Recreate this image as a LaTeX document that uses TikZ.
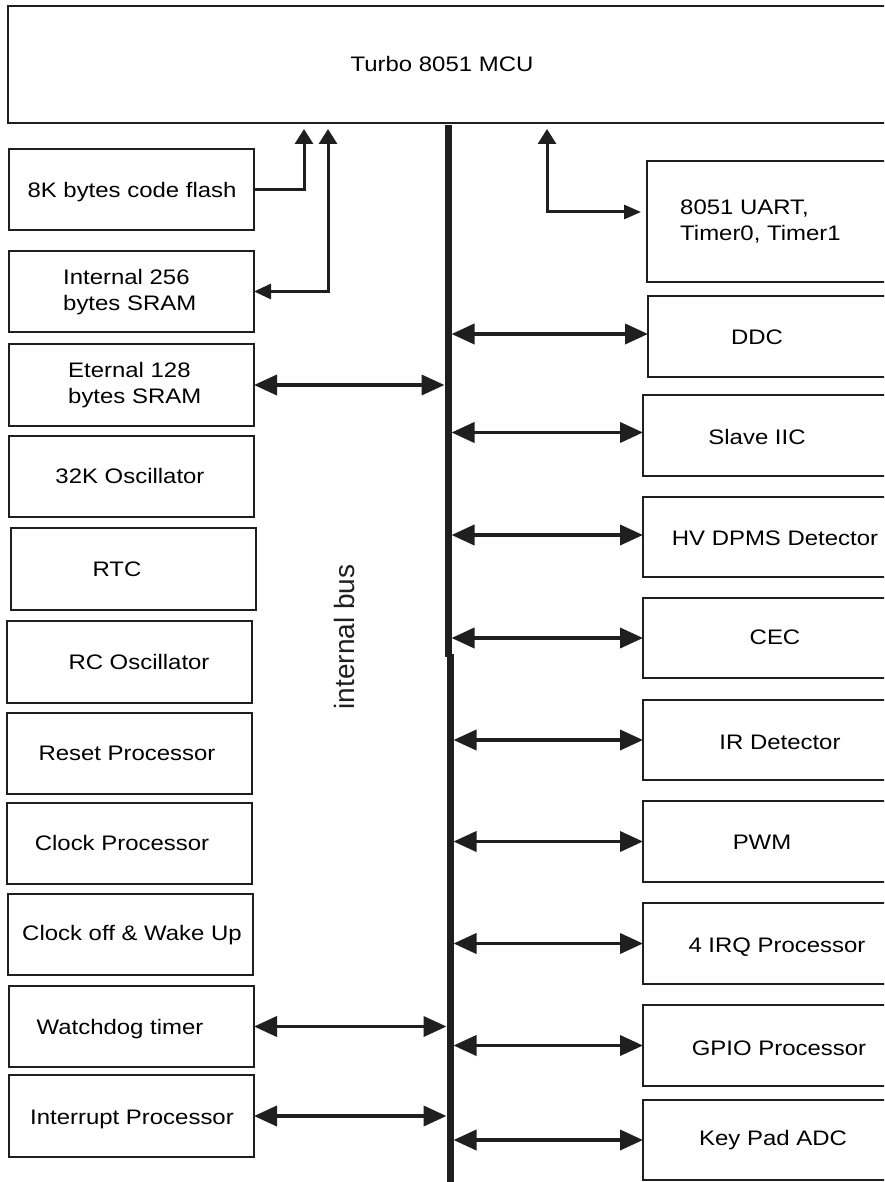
\documentclass[tikz,border=0pt]{standalone}
\usepackage{fontspec}
\setmainfont{Liberation Sans}
\newfontfamily\boxfont[FakeStretch=1.14]{Liberation Sans}
\usetikzlibrary{arrows.meta,fit}
\begin{document}
\begin{tikzpicture}[x=1pt,y=-1pt,
  box/.style={draw=black!88, line width=2.4pt, inner sep=0pt, outer sep=0pt},
  lbl/.style={font=\boxfont\fontsize{21}{26}\selectfont, inner sep=0pt, text height=15pt, text depth=0pt},
  lbltwo/.style={font=\boxfont\fontsize{21}{26}\selectfont, inner sep=0pt, align=left, anchor=west},
  busline/.style={line width=7pt, draw=black!88},
  barr/.style={line width=3.8pt, draw=black!88, >={Triangle[length=23pt,width=20pt]}, <->},
  tarr/.style={line width=3pt, draw=black!88, arrows={-Triangle[length=15pt,width=18pt]}},
  tarrb/.style={line width=3pt, draw=black!88, arrows={Triangle[length=17pt,width=15pt]-Triangle[length=15pt,width=18pt]}},
  tarrc/.style={line width=3pt, draw=black!88, arrows={Triangle[length=15pt,width=18pt]-Triangle[length=17pt,width=14pt]}}
]
\useasboundingbox (0,0) rectangle (884,1182);
\fill[white] (0,0) rectangle (884,1182);
\clip (0,0) rectangle (884,1182);

% MCU
\node[box, fit={(8,6) (900,123)}] (mcu) {};
\node[lbl] (mcut) at (442,64) {Turbo 8051 MCU};

% left blocks
\node[box, fit={(9,149) (254,230)}] (flash) {};
\node[lbl] (flasht) at (132,190) {8K bytes code flash};
\node[box, fit={(9,251) (254,332)}] (sramA) {};
\node[lbltwo] (sramAt) at (63,292) {Internal 256\\bytes SRAM};
\node[box, fit={(9,344) (254,426)}] (sramB) {};
\node[lbltwo] (sramBt) at (68,385) {Eternal 128\\bytes SRAM};
\node[box, fit={(9,436) (254,517)}] (oscA) {};
\node[lbl] (oscAt) at (130,476) {32K Oscillator};
\node[box, fit={(11,528) (256,610)}] (rtc) {};
\node[lbl] (rtct) at (117,569) {RTC};
\node[box, fit={(7,621) (252,703)}] (oscB) {};
\node[lbl] (oscBt) at (139,662) {RC Oscillator};
\node[box, fit={(7,713) (252,794)}] (rst) {};
\node[lbl] (rstt) at (127,753) {Reset Processor};
\node[box, fit={(7,803) (252,884)}] (clk) {};
\node[lbl] (clkt) at (122,843) {Clock Processor};
\node[box, fit={(8,894) (253,975)}] (clkoff) {};
\node[lbl] (clkofft) at (132,933) {Clock off \& Wake Up};
\node[box, fit={(9,986) (254,1067)}] (wdt) {};
\node[lbl] (wdtt) at (120,1027) {Watchdog timer};
\node[box, fit={(9,1075) (254,1157)}] (intp) {};
\node[lbl] (intpt) at (132,1117) {Interrupt Processor};

% right blocks
\node[box, fit={(647,161) (900,282)}] (uart) {};
\node[lbltwo] (uartt) at (680,222) {8051 UART,\\Timer0, Timer1};
\node[box, fit={(648,296) (900,377)}] (ddc) {};
\node[lbl] (ddct) at (757,337) {DDC};
\node[box, fit={(643,395) (900,476)}] (iic) {};
\node[lbl] (iict) at (757,437) {Slave IIC};
\node[box, fit={(643,497) (900,577)}] (hv) {};
\node[lbl] (hvt) at (775,538) {HV DPMS Detector};
\node[box, fit={(643,598) (900,678)}] (cec) {};
\node[lbl] (cect) at (775,637) {CEC};
\node[box, fit={(643,700) (900,780)}] (ir) {};
\node[lbl] (irt) at (780,742) {IR Detector};
\node[box, fit={(643,801) (900,882)}] (pwm) {};
\node[lbl] (pwmt) at (762,842) {PWM};
\node[box, fit={(643,903) (900,984)}] (irq) {};
\node[lbl] (irqt) at (777,945) {4 IRQ Processor};
\node[box, fit={(643,1005) (900,1086)}] (gpio) {};
\node[lbl] (gpiot) at (779,1048) {GPIO Processor};
\node[box, fit={(643,1100) (900,1180)}] (key) {};
\node[lbl] (keyt) at (773,1138) {Key Pad ADC};

% internal bus
\coordinate (busT) at (448,125);
\coordinate (busM1) at (448,657);
\coordinate (busM2) at (450,654);
\coordinate (busB) at (450,1195);
\draw[busline] (busT) -- (busM1);
\draw[busline] (busM2) -- (busB);
\coordinate (bUL) at (444.5,0);
\coordinate (bUR) at (451.5,0);
\coordinate (bLL) at (446.5,0);
\coordinate (bLR) at (453.5,0);
\node[font=\fontsize{28}{34}\selectfont, rotate=90, inner sep=0pt, text=black!88] (busl) at (344,637) {internal bus};

% top arrows
\coordinate (t1) at (304,129);
\coordinate (t2) at (328,129);
\coordinate (t3) at (547,129);
\coordinate (uin) at (641,212);
\draw[tarr] (flash.east) -| (t1);
\draw[tarrb] (sramA.east) -| (t2);
\draw[tarrc] (t3) |- (uin);

% bus arrows left
\draw[barr] (sramB.east) -- (sramB.east -| bUL);
\draw[barr] (wdt.east) -- (wdt.east -| bLL);
\draw[barr] (intp.east) -- (intp.east -| bLL);

% bus arrows right
\draw[barr] ([yshift=2.5pt]ddc.west -| bUR) -- ([yshift=2.5pt]ddc.west);
\draw[barr] ([yshift=3pt]iic.west -| bUR) -- ([yshift=3pt]iic.west);
\draw[barr] ([yshift=2pt]hv.west -| bUR) -- ([yshift=2pt]hv.west);
\draw[barr] (cec.west -| bUR) -- (cec.west);
\draw[barr] (ir.west -| bLR) -- (ir.west);
\draw[barr] (pwm.west -| bLR) -- (pwm.west);
\draw[barr] (irq.west -| bLR) -- (irq.west);
\draw[barr] (gpio.west -| bLR) -- (gpio.west);
\draw[barr] (key.west -| bLR) -- (key.west);
\end{tikzpicture}
\end{document}
